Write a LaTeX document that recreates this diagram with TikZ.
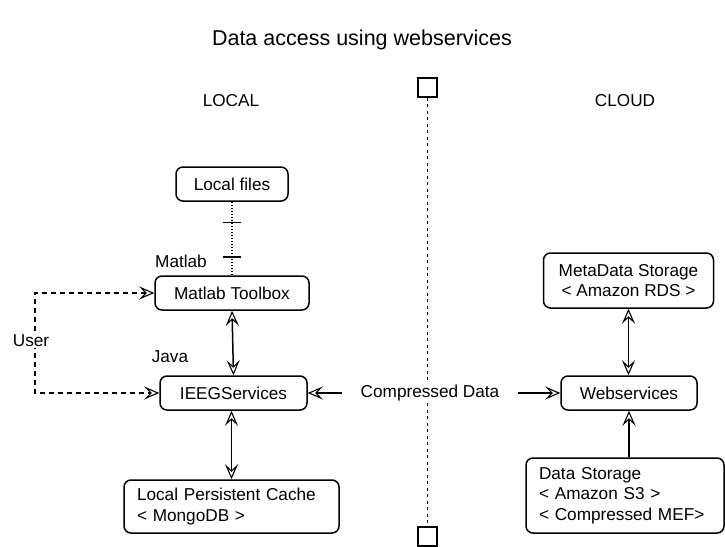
\documentclass[tikz,border=0pt]{standalone}
\usepackage{fontspec}
\setmainfont{Liberation Sans}
\usetikzlibrary{arrows.meta,calc}
\newcommand{\fsn}{\fontsize{17.2}{20.5}\selectfont}
\newcommand{\fst}{\fontsize{21.5}{25}\selectfont}
\tikzset{
  lw/.style={line width=1.5pt},
  >={Stealth[open, length=15pt, width=13pt, inset=6pt, line width=1.1pt]},
}
\begin{document}
\begin{tikzpicture}[x=1pt,y=-1pt,
  box/.style={draw, lw, rounded corners=7pt, font=\fsn, inner sep=0pt, align=center},
  lbox/.style={draw, lw, rounded corners=7pt, font=\fsn, inner xsep=13pt, inner ysep=0pt, align=left},
  lbl/.style={font=\fsn, inner sep=1pt},
  both/.style={lw, <->},
  one/.style={lw, ->},
]
\useasboundingbox (0,0) rectangle (725,546);
\node[font=\fst] (title) at (362,40) {Data access using webservices};
\node[lbl] (local) at (231,101) {LOCAL};
\node[lbl] (cloud) at (625,101) {CLOUD};

% center divider
\node[draw, lw, minimum size=19pt, inner sep=0pt] (sqt) at (427.5,87.5) {};
\node[draw, lw, minimum size=19pt, inner sep=0pt] (sqb) at (427.5,536.5) {};
\draw[lw, dash pattern=on 3pt off 3.5pt] (sqt.south) -- (sqb.north);

% local nodes
\node[box, minimum width=112pt, minimum height=34pt] (lf) at (232,184) {Local files};
\node[box, minimum width=154pt, minimum height=34pt] (mt) at (232,293) {Matlab Toolbox};
\node[box, minimum width=147pt, minimum height=34pt] (ieeg) at (233.5,393) {IEEGServices};
\node[lbox, text width=189pt, minimum height=53pt] (cache) at (231.5,506.5) {Local Persistent Cache\\\textless\ MongoDB \textgreater};

% cloud nodes
\node[box, minimum width=170pt, minimum height=55pt] (meta) at (628.5,280.5) {MetaData Storage\\\textless\ Amazon RDS \textgreater};
\node[box, minimum width=136pt, minimum height=34pt] (web) at (629,393) {Webservices};
\node[lbox, text width=172pt, minimum height=75pt] (ds) at (625,495.5) {Data Storage\\\textless\ Amazon S3 \textgreater\\\textless\ Compressed MEF\textgreater};

% labels
\node[lbl] (matlab) at (181,261) {Matlab};
\node[lbl] (java) at (170,357) {Java};

% dotted link with bars
\draw[lw, dash pattern=on 1.5pt off 1.5pt] (lf.south) -- (mt.north);
\draw[lw] ($(lf.south)!0.28!(mt.north)+(-9,0)$) -- +(18,0);
\draw[lw] ($(lf.south)!0.75!(mt.north)+(-9,0)$) -- +(18,0);

% vertical arrows
\draw[both] (mt.south) -- (ieeg.north);
\draw[both] (ieeg.south -| cache.north) -- (cache.north);
\draw[both] (meta.south) -- (meta.south |- web.north);
\draw[one] (ds.north -| web.south) -- (web.south);

% compressed data
\node[lbl, fill=white, inner xsep=2pt] (cd) at (430,393) {Compressed Data};
\draw[one] ([xshift=-16pt]cd.west) -- (ieeg.east);
\draw[one] ([xshift=16pt]cd.east) -- (web.west);

% user
\coordinate (uc) at (35,293);
\draw[lw, dash pattern=on 5pt off 4pt, <->] (mt.west) -- (uc) |- (ieeg.west);
\node[lbl, fill=white] (user) at (31,341) {User};
\end{tikzpicture}
\end{document}
